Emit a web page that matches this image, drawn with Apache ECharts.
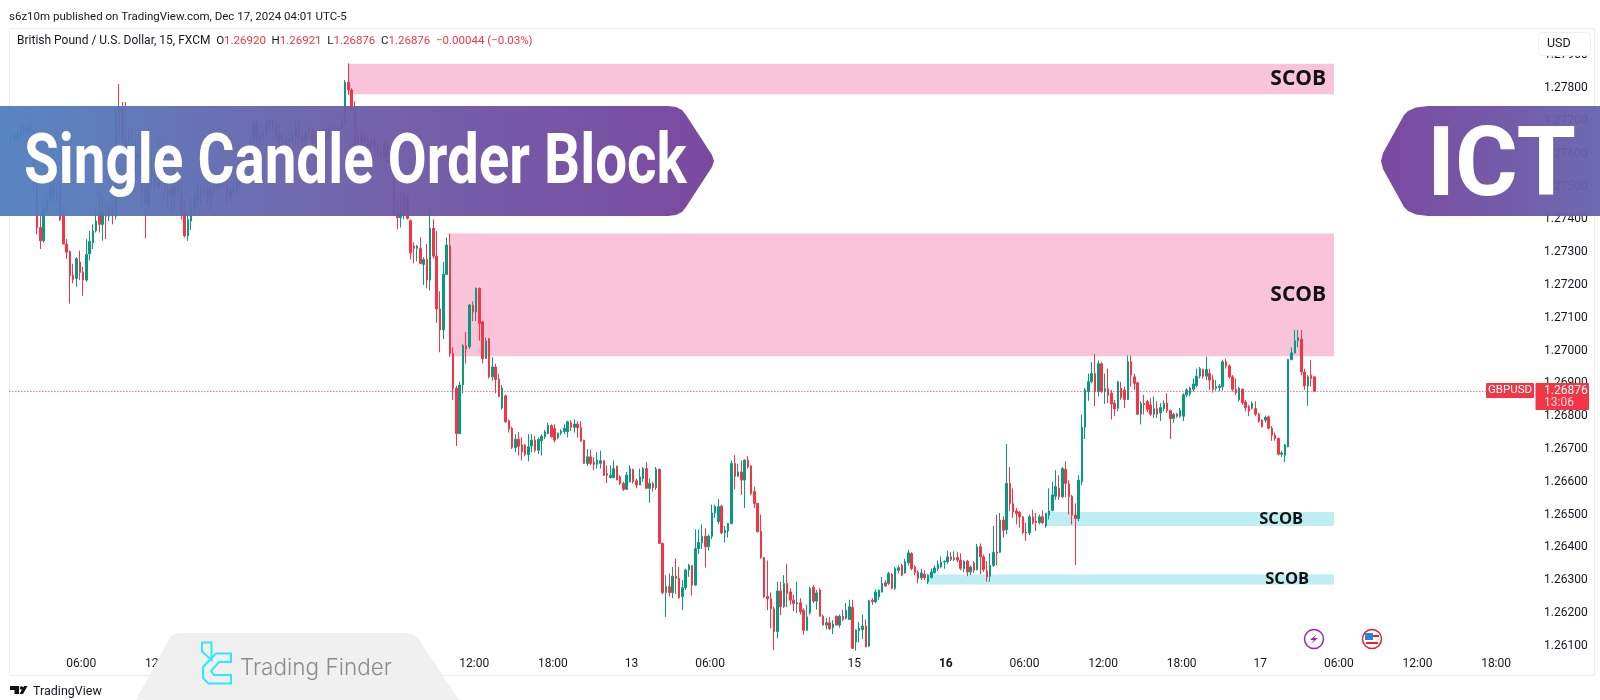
<!DOCTYPE html>
<html>
<head>
<meta charset="utf-8">
<title>Single Candle Order Block</title>
<script src="https://cdn.jsdelivr.net/npm/echarts@6/dist/echarts.min.js"></script>
<style>
  html, body { margin: 0; padding: 0; background: #fff; }
  #chart { width: 1600px; height: 700px; }
</style>
</head>
<body>
<div id="chart"></div>
<script>
// candles are [open, close, low, high] in points above 1.26000 (876 = 1.26876)
const dec11Morning = [
  [1640,1650,1630,1660],[1643,1655,1635,1665],[1650,1660,1640,1672],[1658,1678,1648,1690],[1680,1665,1655,1695],
  [1665,1680,1655,1692],[1680,1672,1660,1715],[1672,1500,1470,1680],[1500,1375,1355,1560],[1375,1335,1310,1420],
  [1335,1430,1330,1455],[1430,1460,1420,1480],[1460,1495,1450,1515],[1495,1475,1455,1525],[1475,1480,1450,1510],
  [1500,1400,1395,1515],[1418,1325,1325,1430],[1325,1300,1280,1340],[1302,1228,1143,1305],[1230,1217,1205,1265],
  [1220,1280,1195,1285],[1270,1238,1215,1305],[1240,1215,1167,1255],[1215,1293,1210,1340],[1295,1333,1275,1365],
  [1330,1365,1310,1385],[1365,1395,1360,1435],[1420,1385,1360,1490],[1385,1420,1335,1470],[1425,1410,1340,1455],
  [1410,1435,1395,1450],[1430,1415,1385,1450]
];
const dec11Afternoon = [
  [1410,1740,1400,1745],[1740,1660,1640,1813],[1740,1640,1620,1758],[1640,1600,1580,1758],[1600,1620,1570,1670],
  [1610,1590,1560,1680],[1590,1600,1540,1640],[1600,1590,1530,1675],[1590,1480,1435,1610],[1500,1445,1343,1570],
  [1445,1530,1430,1680],[1530,1540,1490,1590],[1530,1500,1480,1600],[1500,1570,1490,1650],[1560,1530,1510,1640],
  [1530,1490,1460,1560],[1490,1470,1440,1530],[1470,1500,1420,1540],[1500,1470,1430,1560],[1510,1480,1460,1540],
  [1480,1420,1400,1520],[1420,1350,1345,1450],[1350,1400,1335,1425],[1395,1435,1368,1470],[1435,1460,1420,1490],
  [1460,1475,1440,1510],[1470,1490,1450,1510],[1490,1480,1460,1510],[1490,1465,1440,1505],[1465,1490,1430,1500],
  [1490,1505,1470,1520],[1500,1515,1480,1530],[1510,1525,1490,1535],[1525,1540,1500,1550]
];
const dec11Night = [
  [1530,1470,1440,1550],[1470,1485,1450,1500],[1485,1490,1470,1510],[1490,1510,1475,1525],[1505,1525,1495,1530],
  [1525,1560,1515,1575],[1560,1590,1555,1600],[1590,1640,1580,1650],[1640,1690,1630,1700],[1690,1645,1630,1705],
  [1645,1660,1625,1690],[1655,1670,1640,1690],[1665,1690,1655,1705],[1690,1700,1670,1715],[1700,1680,1670,1710],
  [1680,1660,1640,1700],[1660,1640,1620,1690],[1640,1630,1610,1660],[1630,1645,1620,1655],[1645,1640,1625,1650],
  [1640,1655,1630,1665],[1650,1680,1630,1695],[1680,1650,1635,1705],[1650,1640,1630,1670],[1640,1665,1625,1675],
  [1665,1675,1650,1685],[1670,1640,1625,1680],[1640,1635,1620,1660],[1635,1650,1625,1665],[1650,1640,1635,1660],
  [1640,1655,1635,1675],[1655,1665,1645,1680],[1665,1675,1655,1685],[1675,1670,1660,1690],[1670,1680,1665,1690],
  [1680,1700,1675,1710]
];
const dec12Selloff = [
  [1700,1818,1690,1825],[1818,1795,1780,1876],[1795,1733,1733,1800],[1733,1625,1615,1760],[1650,1635,1620,1681],
  [1635,1660,1625,1680],[1650,1640,1625,1665],[1640,1620,1600,1655],[1620,1640,1600,1650],[1640,1625,1595,1655],
  [1625,1610,1590,1640],[1605,1590,1580,1620],[1590,1630,1580,1640],[1630,1590,1575,1640],[1590,1555,1545,1600],
  [1555,1415,1410,1565],[1415,1405,1370,1470],[1405,1420,1375,1485],[1420,1470,1400,1485],[1465,1403,1400,1475],
  [1396,1298,1278,1400],[1318,1312,1266,1330],[1312,1318,1272,1322],[1312,1266,1265,1345],[1263,1278,1200,1285],
  [1278,1215,1190,1325],[1215,1373,1183,1440],[1373,1288,1280,1400],[1288,1127,1085,1365],[1127,1063,995,1181],
  [1063,1233,1035,1270],[1232,1322,1230,1345],[1320,991,981,1357],[991,885,849,1010],[885,747,709,893],
  [747,895,745,905],[895,1015,870,1020],[1015,1005,960,1057],[1012,1139,1005,1142],[1139,1118,1090,1150],
  [1118,1190,1090,1192],[1190,1083,1030,1192],[1088,976,961,1090],[976,1030,975,1040],[1037,920,915,1038],
  [920,950,908,980],[950,912,870,960],[912,860,858,930],[825,885,820,895],[862,783,780,866]
];
const dec12Drift = [
  [786,760,750,790],[763,704,700,768],[704,730,690,745],[730,708,680,752],[712,691,665,735],
  [712,683,678,715],[683,707,662,745],[709,727,690,745],[727,696,690,740],[696,729,685,735],
  [725,739,680,745],[737,752,730,758],[747,772,745,780],[771,737,735,775],[762,727,720,775],
  [735,748,730,750],[748,755,742,760],[753,763,745,775],[753,783,735,786],[780,766,755,788],
  [766,776,750,790],[776,765,735,785],[765,724,722,785],[727,656,655,728],[656,676,648,700],
  [676,656,650,698],[660,653,635,675],[653,666,640,690],[656,664,640,695],[664,620,618,665],
  [625,620,596,650],[613,620,610,650],[613,640,610,665],[648,605,605,648],[615,595,590,620],
  [595,577,572,600],[577,620,575,630],[600,640,598,650],[637,600,595,640],[603,590,580,610],
  [590,615,590,640],[610,640,600,645],[640,580,578,660],[580,595,536,610],[595,582,570,600],
  [582,638,575,645]
];
const dec13 = [
  [638,412,410,640],[412,262,257,415],[262,280,188,315],[280,262,250,320],[262,312,245,340],
  [312,305,258,366],[305,247,243,340],[250,277,208,300],[277,331,270,335],[331,345,310,350],
  [345,285,253,345],[285,396,282,455],[396,415,380,455],[414,434,395,470],[434,402,338,458],
  [402,434,390,440],[434,505,425,530],[505,525,490,530],[478,524,470,547],[525,444,440,530],
  [444,452,415,465],[450,473,430,475],[473,656,470,665],[656,617,577,681],[617,630,615,655],
  [630,605,560,665],[605,666,520,668],[666,645,640,678],[648,564,560,650],[570,534,520,585],
  [534,448,445,535],[448,369,365,500],[369,249,245,371],[250,243,208,360],[243,213,153,262],
  [213,143,86,219],[143,267,122,295],[267,219,193,295],[219,290,215,315],[290,259,218,350],
  [264,239,225,275],[239,229,205,255],[227,231,200,295],[231,204,195,245],[208,147,134,214],
  [147,188,145,225],[200,274,195,280],[278,236,230,285],[236,261,210,270],[270,190,188,275],
  [190,163,162,195],[163,170,150,185],[170,152,148,188],[155,166,135,178],[190,163,162,192],
  [163,190,155,195],[190,180,175,210],[183,208,180,230],[180,219,178,240]
];
const dec15 = [
  [217,92,90,240],[112,148,85,150],[146,154,110,172],[149,160,120,195],[160,97,95,180],
  [99,237,97,240],[239,234,225,245],[234,264,230,272],[249,269,240,272],[264,290,262,310],
  [292,282,280,300],[290,320,285,325],[318,275,272,322],[275,335,270,340],[330,338,320,345],
  [345,315,312,350],[322,356,320,365],[353,383,345,392],[381,335,330,385],[340,323,315,345],
  [325,305,290,330],[307,322,300,335],[318,307,300,330],[295,315,288,318],[308,325,305,335],
  [323,337,320,345],[335,348,328,360],[340,355,338,372]
];
const dec16Morning = [
  [355,357,335,360],[356,371,350,390],[371,363,358,385],[363,368,358,388],[369,361,355,385],
  [361,336,330,382],[335,358,325,360],[358,325,312,362],[325,340,315,345],[352,330,322,358],
  [332,402,330,410],[402,371,318,412],[371,332,325,378],[328,310,295,358],[312,345,295,382],
  [345,385,340,465],[386,382,345,500],[385,483,383,505],[483,452,430,495],[454,595,440,715],
  [595,533,510,645],[533,508,490,580],[511,503,470,520],[507,493,460,510],[493,445,440,495],
  [447,444,420,475],[444,493,437,500],[493,475,470,515],[480,476,450,505],[476,493,470,500],
  [493,475,470,512],[465,503,460,505],[498,511,485,580],[513,560,510,600],[556,585,545,635],
  [580,554,545,620],[554,640,550,645],[638,595,552,662],[593,555,500,605],[556,498,470,560],
  [498,488,346,534],[488,605,480,620]
];
const dec16Afternoon = [
  [600,766,590,805],[766,880,730,885],[875,905,847,930],[905,930,900,965],[930,875,830,990],
  [875,960,860,970],[960,875,870,965],[875,884,838,930],[884,864,840,945],[870,837,790,880],
  [839,822,800,850],[824,905,815,908],[885,857,850,905],[880,851,825,890],[851,966,850,985],
  [966,925,890,985],[920,900,880,930],[902,806,805,905],[806,839,775,845],[839,834,805,865],
  [845,820,812,850],[834,806,800,855],[806,823,795,860],[823,806,795,845],[810,826,785,840],
  [823,840,815,848],[840,817,810,870],[817,793,730,820],[793,806,780,810],[806,800,795,810],
  [800,817,795,825],[800,865,785,870],[865,880,858,885]
];
const dec16Night = [
  [868,885,860,890],[882,898,875,915],[893,922,888,945],[922,945,915,950],[943,922,915,945],
  [922,943,910,982],[930,910,880,945],[912,882,872,925],[885,890,878,910],[887,892,876,898],
  [890,966,878,972],[966,953,945,975],[953,920,915,958],[920,882,875,925],[882,871,865,915],
  [850,885,845,890],[882,841,835,885],[843,826,815,850],[829,816,800,835],[824,839,820,845],
  [823,806,800,845],[806,785,780,810],[788,768,765,790],[788,796,780,802],[798,763,760,802],
  [763,742,725,770],[742,732,725,750],[732,684,680,735],[684,688,675,695],[681,712,660,715]
];
const dec17 = [
  [707,973,705,975],[973,993,970,1010],[993,1030,990,1063],[1030,1040,1010,1063],[1035,935,925,1063],
  [935,892,880,945],[892,920,832,925],[925,915,890,971],[920,876,876,921]
];

// time axis labels, by 15 minute slot counted from the left edge
const slotCount = 466;
const tickSlots = [21, 45, 69, 93, 117, 141, 165, 189, 213, 257, 285, 309, 333, 357, 381, 405, 429, 453];
const tickLabels = ['06:00', '12:00', '18:00', '12', '06:00', '12:00', '18:00', '13', '06:00', '15', '16', '06:00', '12:00', '18:00', '17', '06:00', '12:00', '18:00'];

// SCOB zones: first slot, last slot, top and bottom price in points
const zoneFrom = [103, 134, 316, 280];
const zoneTo = [404, 404, 404, 404];
const zoneTop = [1875, 1357, 508, 317];
const zoneBottom = [1782, 983, 465, 287];

const lastPrice = 1.26876;

const UP = '#089981';
const DOWN = '#f23645';
const TEXT = '#131722';
const PINK = '#f9c4d9';
const BLUE = '#bfeef2';

function toPrice(points) {
  return +(1.26 + points / 100000).toFixed(5);
}

const candles = [].concat(dec11Morning, dec11Afternoon, dec11Night, dec12Selloff, dec12Drift, dec13, dec15, dec16Morning, dec16Afternoon, dec16Night, dec17)
  .map((c) => c.map(toPrice));

const categories = [];
for (let i = 0; i < slotCount; i++) {
  categories.push('slot' + i);
}

function zoneItem(i, color, distance, fontSize) {
  return [{
    coord: [zoneFrom[i], toPrice(zoneTop[i])],
    itemStyle: { color: color, opacity: 1 },
    label: {
      show: true,
      formatter: 'SCOB',
      position: 'insideRight',
      distance: distance,
      color: '#111',
      fontFamily: 'Open Sans',
      fontWeight: 700,
      fontSize: fontSize
    }
  }, {
    coord: [zoneTo[i], toPrice(zoneBottom[i])]
  }];
}

// everything drawn on top of the chart
const overlay = [
  { type: 'rect', z: 5, shape: { x: 9.5, y: 28.5, width: 1585, height: 647 }, style: { fill: 'none', stroke: '#ececf0', lineWidth: 1 } },
  { type: 'text', z: 50, x: 9, y: 11, style: { text: 's6z10m published on TradingView.com, Dec 17, 2024 04:01 UTC-5', fill: TEXT, font: '11.5px Roboto' } },
  {
    type: 'text', z: 50, x: 17, y: 35,
    style: {
      text: '{n|British Pound / U.S. Dollar, 15, FXCM}  {k|O}{r|1.26920}  {k|H}{r|1.26921}  {k|L}{r|1.26876}  {k|C}{r|1.26876}  {r|\u22120.00044 (\u22120.03%)}',
      fill: TEXT,
      font: '11.5px Roboto',
      rich: {
        n: { fill: TEXT, font: '12px Roboto' },
        k: { fill: TEXT, font: '11.5px Roboto' },
        r: { fill: DOWN, font: '11.5px Roboto' }
      }
    }
  },
  // usd button
  { type: 'rect', z: 50, shape: { x: 1538.5, y: 32.5, width: 52, height: 23, r: 4 }, style: { fill: '#fff', stroke: '#eeeeee' } },
  { type: 'text', z: 51, x: 1547, y: 37, style: { text: 'USD', fill: TEXT, font: '12.5px Roboto' } },
  // last price tags
  { type: 'rect', z: 50, shape: { x: 1486, y: 383, width: 48, height: 15, r: 1 }, style: { fill: DOWN } },
  { type: 'text', z: 51, x: 1510, y: 390.5, style: { text: 'GBPUSD', fill: '#fff', font: '11.5px Roboto', align: 'center', verticalAlign: 'middle' } },
  { type: 'rect', z: 50, shape: { x: 1535.5, y: 383, width: 53.5, height: 27, r: 1 }, style: { fill: DOWN } },
  { type: 'text', z: 51, x: 1544, y: 390.5, style: { text: '1.26876', fill: '#fff', font: '12px Roboto', verticalAlign: 'middle' } },
  { type: 'text', z: 51, x: 1544, y: 402.5, style: { text: '13:06', fill: '#ffd5da', font: '12px Roboto', verticalAlign: 'middle' } },
  // banners
  {
    type: 'polygon', z: 60,
    shape: { points: [[0,106],[668,106],[676,107],[682,110],[686,115],[712,155],[714,161],[712,167],[686,207],[682,212],[676,215],[668,216],[0,216]] },
    style: {
      opacity: 0.95,
      fill: new echarts.graphic.LinearGradient(0, 0, 1, 0, [
        { offset: 0, color: '#4f80be' },
        { offset: 0.45, color: '#6a5fa8' },
        { offset: 1, color: '#74409a' }
      ])
    }
  },
  { type: 'text', z: 61, x: 24, y: 165, scaleX: 0.808, originX: 0, originY: 0, style: { text: 'Single Candle Order Block', fill: '#fff', font: 'bold 70px Roboto', verticalAlign: 'middle' } },
  {
    type: 'polygon', z: 60,
    shape: { points: [[1600,106],[1428,106],[1416,107.5],[1408,111],[1404,115],[1383,153],[1381,161],[1383,169],[1404,207],[1408,211],[1416,214.5],[1428,216],[1600,216]] },
    style: {
      opacity: 0.95,
      fill: new echarts.graphic.LinearGradient(0, 0, 1, 0, [
        { offset: 0, color: '#74409a' },
        { offset: 1, color: '#6662ac' }
      ])
    }
  },
  { type: 'text', z: 61, x: 1427, y: 171, style: { text: 'ICT', fill: '#fff', font: 'bold 96px Roboto', verticalAlign: 'middle' } },
  // trading finder tab
  { type: 'polygon', z: 60, shape: { points: [[136,700],[168,641],[171,636],[176,633.5],[184,633],[404,633],[412,634],[417,637],[420,641],[459,700]] }, style: { fill: '#f0f0f0' } },
  { type: 'polygon', z: 61, shape: { points: [[202,642.5],[211.5,642.5],[211.5,660],[202,651.5]] }, style: { fill: 'none', stroke: '#2eeaf3', lineWidth: 2 } },
  { type: 'polygon', z: 61, shape: { points: [[231,653.5],[216,653.5],[203,667],[203,678],[208.5,683.5],[231,683.5],[231,675],[214,675],[211,671],[219,662],[231,662]] }, style: { fill: 'none', stroke: '#2eeaf3', lineWidth: 2 } },
  { type: 'text', z: 61, x: 240, y: 668, style: { text: 'Trading Finder', fill: '#8c8c8c', font: '300 22.5px Inter', verticalAlign: 'middle' } },
  // tradingview mark
  { type: 'polygon', z: 50, shape: { points: [[10,686],[19,686],[19,694],[14.5,694],[14.5,690],[10,690]] }, style: { fill: '#111' } },
  { type: 'polygon', z: 50, shape: { points: [[27.5,686],[23,694],[19.5,694],[24,686]] }, style: { fill: '#111' } },
  { type: 'circle', z: 50, shape: { cx: 21.5, cy: 688, r: 1.8 }, style: { fill: '#111' } },
  { type: 'text', z: 50, x: 33, y: 691.5, style: { text: 'TradingView', fill: TEXT, font: '12.5px Roboto', verticalAlign: 'middle' } },
  // event icons
  { type: 'circle', z: 50, shape: { cx: 1314, cy: 639, r: 9.5 }, style: { fill: '#fff', stroke: '#9c27b0', lineWidth: 1.5 } },
  { type: 'polygon', z: 51, shape: { points: [[1317,634],[1310,640],[1314,640],[1311,644],[1318,638],[1314,638]] }, style: { fill: '#9c27b0' } },
  { type: 'circle', z: 50, shape: { cx: 1372, cy: 639, r: 9.5 }, style: { fill: '#fff', stroke: '#e5222f', lineWidth: 1.5 } },
  { type: 'rect', z: 51, shape: { x: 1365, y: 633, width: 8, height: 7 }, style: { fill: '#2a86d8' } },
  { type: 'rect', z: 51, shape: { x: 1373, y: 635, width: 6, height: 2 }, style: { fill: '#e5222f' } },
  { type: 'rect', z: 51, shape: { x: 1366, y: 642, width: 12, height: 2 }, style: { fill: '#e5222f' } }
];

const chart = echarts.init(document.getElementById('chart'), null, { renderer: 'canvas' });

chart.setOption({
  animation: false,
  backgroundColor: '#ffffff',
  grid: { left: 9.36, top: 22.7, width: 1526.15, height: 655.8 },
  xAxis: {
    type: 'category',
    data: categories,
    axisLine: { show: false },
    axisTick: { show: false },
    splitLine: { show: false },
    axisLabel: {
      interval: 0,
      margin: -21,
      padding: [0, 0, 0, 3],
      hideOverlap: false,
      color: TEXT,
      fontFamily: 'Roboto',
      fontSize: 12,
      formatter: (value, index) => {
        const at = tickSlots.indexOf(index);
        if (at < 0) return '';
        return tickLabels[at] === '16' ? '{b|16}' : tickLabels[at];
      },
      rich: { b: { fontWeight: 700, fontSize: 12, fontFamily: 'Roboto', color: TEXT } }
    }
  },
  yAxis: {
    type: 'value',
    position: 'right',
    min: 1.26,
    max: 1.28,
    interval: 0.001,
    axisLine: { show: false },
    axisTick: { show: false },
    splitLine: { show: false },
    axisLabel: {
      margin: 8.5,
      color: TEXT,
      fontFamily: 'Roboto',
      fontSize: 12,
      formatter: (value) => (value <= 1.2601 || value >= 1.2799) ? '' : value.toFixed(5)
    }
  },
  series: [{
    type: 'candlestick',
    data: candles,
    barWidth: 2,
    itemStyle: {
      color: UP,
      color0: DOWN,
      borderColor: UP,
      borderColor0: DOWN,
      borderWidth: 1
    },
    markArea: {
      silent: true,
      data: [
        zoneItem(0, PINK, 8, 21),
        zoneItem(1, PINK, 8, 21),
        zoneItem(2, BLUE, 31, 16.5),
        zoneItem(3, BLUE, 25, 16.5)
      ]
    },
    markLine: {
      silent: true,
      symbol: 'none',
      precision: 5,
      label: { show: false },
      lineStyle: { color: DOWN, width: 1, type: [1, 2], opacity: 1 },
      data: [{ yAxis: lastPrice, lineStyle: { color: DOWN, width: 1, type: [1, 2], opacity: 1 } }]
    }
  }],
  graphic: overlay
});

window.onresize = () => {
  chart.resize();
};
</script>
</body>
</html>
